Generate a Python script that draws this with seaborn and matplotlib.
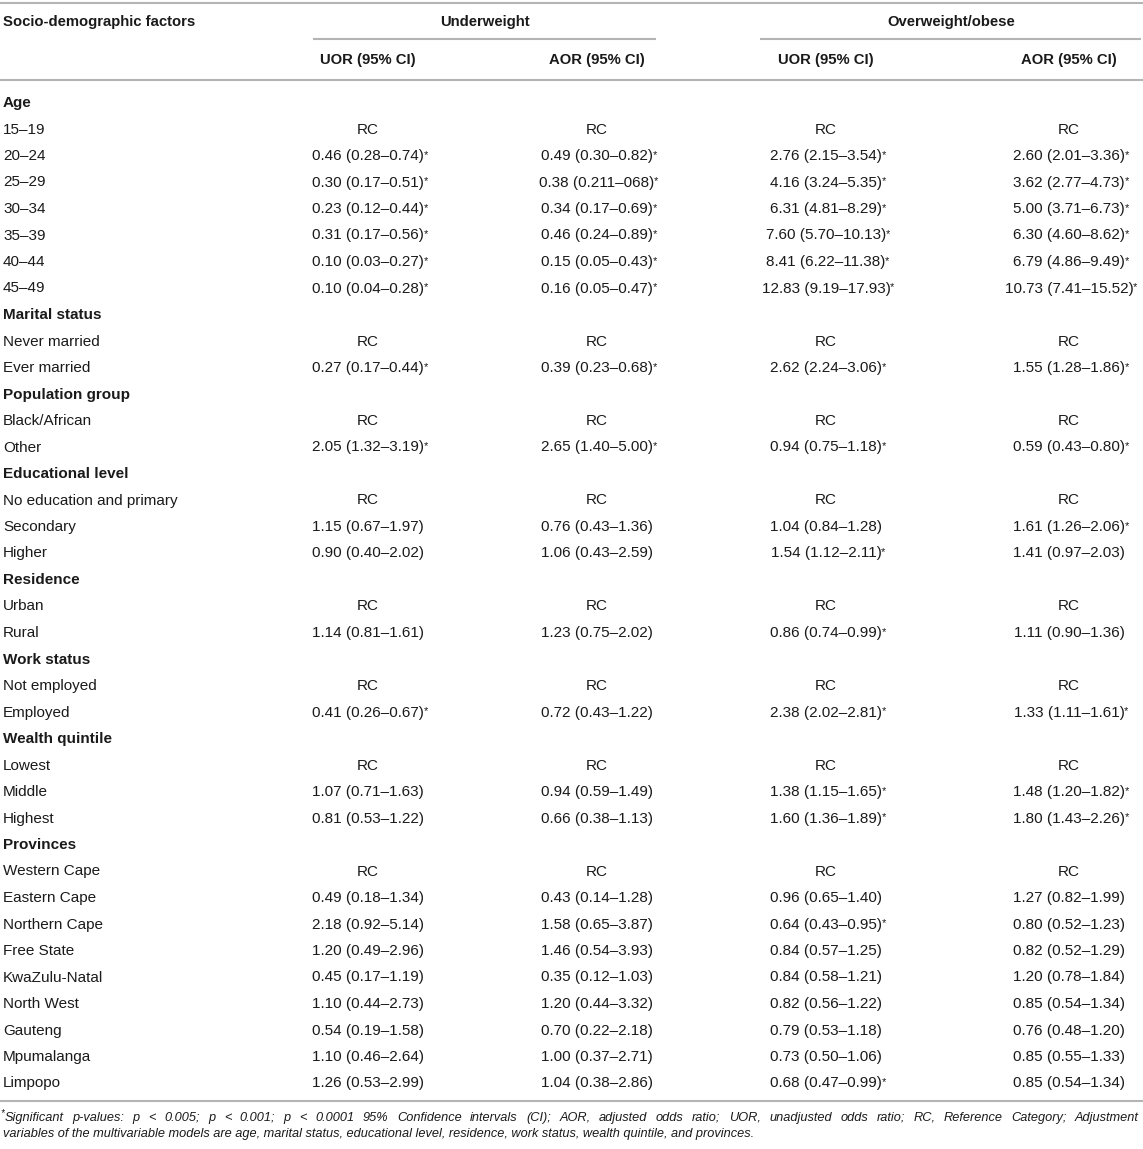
import matplotlib
matplotlib.use("Agg")
import matplotlib.pyplot as plt
import seaborn as sns

sns.set_theme(style="white")
plt.rcParams['font.family'] = ['Liberation Sans', 'DejaVu Sans']

# Données du tableau
factors = ["Age", "15–19", "20–24", "25–29", "30–34", "35–39", "40–44", "45–49",
           "Marital status", "Never married", "Ever married",
           "Population group", "Black/African", "Other",
           "Educational level", "No education and primary", "Secondary", "Higher",
           "Residence", "Urban", "Rural",
           "Work status", "Not employed", "Employed",
           "Wealth quintile", "Lowest", "Middle", "Highest",
           "Provinces", "Western Cape", "Eastern Cape", "Northern Cape", "Free State",
           "KwaZulu-Natal", "North West", "Gauteng", "Mpumalanga", "Limpopo"]
sections = ["Age", "Marital status", "Population group", "Educational level",
            "Residence", "Work status", "Wealth quintile", "Provinces"]

uw_uor = ["", "RC", "0.46 (0.28–0.74)*", "0.30 (0.17–0.51)*", "0.23 (0.12–0.44)*",
          "0.31 (0.17–0.56)*", "0.10 (0.03–0.27)*", "0.10 (0.04–0.28)*",
          "", "RC", "0.27 (0.17–0.44)*",
          "", "RC", "2.05 (1.32–3.19)*",
          "", "RC", "1.15 (0.67–1.97)", "0.90 (0.40–2.02)",
          "", "RC", "1.14 (0.81–1.61)",
          "", "RC", "0.41 (0.26–0.67)*",
          "", "RC", "1.07 (0.71–1.63)", "0.81 (0.53–1.22)",
          "", "RC", "0.49 (0.18–1.34)", "2.18 (0.92–5.14)", "1.20 (0.49–2.96)",
          "0.45 (0.17–1.19)", "1.10 (0.44–2.73)", "0.54 (0.19–1.58)",
          "1.10 (0.46–2.64)", "1.26 (0.53–2.99)"]
uw_aor = ["", "RC", "0.49 (0.30–0.82)*", "0.38 (0.211–068)*", "0.34 (0.17–0.69)*",
          "0.46 (0.24–0.89)*", "0.15 (0.05–0.43)*", "0.16 (0.05–0.47)*",
          "", "RC", "0.39 (0.23–0.68)*",
          "", "RC", "2.65 (1.40–5.00)*",
          "", "RC", "0.76 (0.43–1.36)", "1.06 (0.43–2.59)",
          "", "RC", "1.23 (0.75–2.02)",
          "", "RC", "0.72 (0.43–1.22)",
          "", "RC", "0.94 (0.59–1.49)", "0.66 (0.38–1.13)",
          "", "RC", "0.43 (0.14–1.28)", "1.58 (0.65–3.87)", "1.46 (0.54–3.93)",
          "0.35 (0.12–1.03)", "1.20 (0.44–3.32)", "0.70 (0.22–2.18)",
          "1.00 (0.37–2.71)", "1.04 (0.38–2.86)"]
ow_uor = ["", "RC", "2.76 (2.15–3.54)*", "4.16 (3.24–5.35)*", "6.31 (4.81–8.29)*",
          "7.60 (5.70–10.13)*", "8.41 (6.22–11.38)*", "12.83 (9.19–17.93)*",
          "", "RC", "2.62 (2.24–3.06)*",
          "", "RC", "0.94 (0.75–1.18)*",
          "", "RC", "1.04 (0.84–1.28)", "1.54 (1.12–2.11)*",
          "", "RC", "0.86 (0.74–0.99)*",
          "", "RC", "2.38 (2.02–2.81)*",
          "", "RC", "1.38 (1.15–1.65)*", "1.60 (1.36–1.89)*",
          "", "RC", "0.96 (0.65–1.40)", "0.64 (0.43–0.95)*", "0.84 (0.57–1.25)",
          "0.84 (0.58–1.21)", "0.82 (0.56–1.22)", "0.79 (0.53–1.18)",
          "0.73 (0.50–1.06)", "0.68 (0.47–0.99)*"]
ow_aor = ["", "RC", "2.60 (2.01–3.36)*", "3.62 (2.77–4.73)*", "5.00 (3.71–6.73)*",
          "6.30 (4.60–8.62)*", "6.79 (4.86–9.49)*", "10.73 (7.41–15.52)*",
          "", "RC", "1.55 (1.28–1.86)*",
          "", "RC", "0.59 (0.43–0.80)*",
          "", "RC", "1.61 (1.26–2.06)*", "1.41 (0.97–2.03)",
          "", "RC", "1.11 (0.90–1.36)",
          "", "RC", "1.33 (1.11–1.61)*",
          "", "RC", "1.48 (1.20–1.82)*", "1.80 (1.43–2.26)*",
          "", "RC", "1.27 (0.82–1.99)", "0.80 (0.52–1.23)", "0.82 (0.52–1.29)",
          "1.20 (0.78–1.84)", "0.85 (0.54–1.34)", "0.76 (0.48–1.20)",
          "0.85 (0.55–1.33)", "0.85 (0.54–1.34)"]

groups = ["Underweight", "Overweight/obese"]
sub_headers = ["UOR (95% CI)", "AOR (95% CI)", "UOR (95% CI)", "AOR (95% CI)"]
footnote = ["Significant p-values: p < 0.005; p < 0.001; p < 0.0001 95% Confidence intervals (CI); "
            "AOR, adjusted odds ratio; UOR, unadjusted odds ratio; RC, Reference Category; Adjustment",
            "variables of the multivariable models are age, marital status, educational level, "
            "residence, work status, wealth quintile, and provinces."]

W, H = 1143, 1149
fig = plt.figure(figsize=(W / 100, H / 100), dpi=100)
ax = fig.add_axes([0, 0, 1, 1])
ax.set_xlim(0, W)
ax.set_ylim(H, 0)
ax.axis("off")

txt = "#1a1a1a"
gris = "#b4b4b4"
fs = 11
fs_h = 10.7
fs_n = 9.2
col_x = [368, 597, 826, 1069]

# filets
for y, x0, x1 in [(3, 0, W), (80, 0, W), (1101, 0, W), (39, 313, 656), (39, 760, 1141)]:
    ax.plot([x0, x1], [y, y], color=gris, lw=1.5, solid_capstyle="butt")

# en-têtes
ax.text(3, 22, "Socio-demographic factors", fontsize=fs_h, fontweight="bold", va="center", color=txt)
ax.text(485, 22, groups[0], fontsize=fs_h, fontweight="bold", ha="center", va="center", color=txt)
ax.text(951, 22, groups[1], fontsize=fs_h, fontweight="bold", ha="center", va="center", color=txt)
for x, h in zip(col_x, sub_headers):
    ax.text(x, 60, h, fontsize=fs_h, fontweight="bold", ha="center", va="center", color=txt)

# lignes
y0, pas = 103, 26.5
for i, f in enumerate(factors):
    y = y0 + i * pas
    gras = f in sections
    ax.text(3, y, f, fontsize=fs, fontweight="bold" if gras else "normal",
            va="center", color=txt)
    for x, col in zip(col_x, [uw_uor, uw_aor, ow_uor, ow_aor]):
        v = col[i]
        if not v:
            continue
        etoile = v.endswith("*")
        t = ax.text(x, y, v.rstrip("*"), fontsize=fs, ha="center", va="center", color=txt)
        if etoile:
            ax.annotate("*", xy=(1.0, 0.95), xycoords=t, xytext=(-0.3, 0),
                        textcoords="offset points", fontsize=8, ha="left", va="top", color=txt)

# note (première ligne justifiée)
ax.text(0, 1113, "*", fontsize=7, style="italic", va="center", color=txt)
renderer = fig.canvas.get_renderer()
mots = footnote[0].split(" ")
objets = [ax.text(0, 1118, m, fontsize=fs_n, style="italic", va="center", color=txt) for m in mots]
larg = [o.get_window_extent(renderer).width for o in objets]
x_deb, x_fin = 5, 1139
ecart = (x_fin - x_deb - sum(larg)) / (len(mots) - 1)
x = x_deb
for o, l in zip(objets, larg):
    o.set_x(x)
    x += l + ecart
ax.text(3, 1134, footnote[1], fontsize=fs_n, style="italic", va="center", color=txt)

plt.savefig("out.png", dpi=100)
